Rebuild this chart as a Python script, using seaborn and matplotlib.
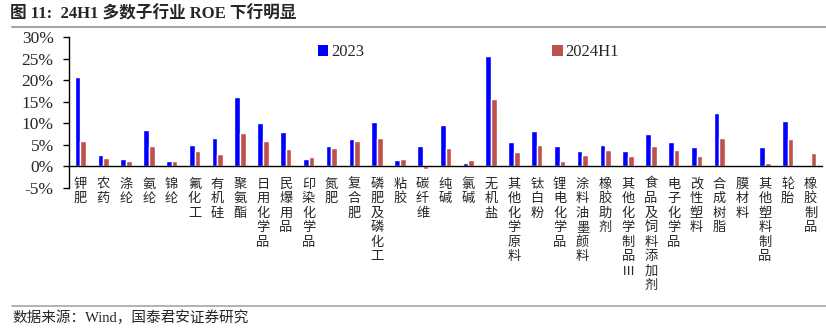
import numpy as np
import pandas as pd
import matplotlib
matplotlib.use("Agg")
import matplotlib.pyplot as plt
import seaborn as sns
from matplotlib.patches import Patch

categories = ["钾肥", "农药", "涤纶", "氨纶", "锦纶", "氟化工", "有机硅", "聚氨酯", "日用化学品",
              "民爆用品", "印染化学品", "氮肥", "复合肥", "磷肥及磷化工", "粘胶", "碳纤维", "纯碱",
              "氯碱", "无机盐", "其他化学原料", "钛白粉", "锂电化学品", "涂料油墨颜料", "橡胶助剂",
              "其他化学制品Ⅲ", "食品及饲料添加剂", "电子化学品", "改性塑料", "合成树脂", "膜材料",
              "其他塑料制品", "轮胎", "橡胶制品"]
roe_2023 = [20.8, 2.7, 1.7, 8.5, 1.15, 4.9, 6.5, 16.1, 10.1, 7.9, 1.7, 4.85, 6.3, 10.2, 1.55,
            4.8, 9.6, 0.77, 25.5, 5.6, 8.2, 4.8, 3.6, 5.0, 3.6, 7.6, 5.6, 4.5, 12.4, 0.3, 4.5, 10.5, 0.0]
roe_2024h1 = [6.0, 1.9, 1.3, 4.8, 1.3, 3.5, 2.85, 7.7, 5.85, 4.15, 2.15, 4.3, 5.8, 6.5, 1.7,
              -0.6, 4.2, 1.46, 15.6, 3.4, 4.9, 1.2, 2.7, 3.85, 2.4, 4.7, 3.8, 2.5, 6.7, -0.2, 0.85, 6.4, 3.1]
series_names = ["2023", "2024H1"]
colors = ["#0000FF", "#C0504D"]
yticks = [-5, 0, 5, 10, 15, 20, 25, 30]

df = pd.DataFrame({
    "cat": categories * 2,
    "val": roe_2023 + roe_2024h1,
    "series": [series_names[0]] * len(categories) + [series_names[1]] * len(categories),
})

sns.set_theme(style="white")
plt.rcParams["font.family"] = ["Liberation Serif", "Noto Sans CJK SC", "DejaVu Sans"]

fig = plt.figure(figsize=(8.26, 3.30), dpi=100)
ax = fig.add_axes([69 / 826, 1 - 188 / 330, 753 / 826, 151 / 330])

sns.barplot(data=df, x="cat", y="val", hue="series", palette=colors, width=0.5,
            errorbar=None, ax=ax, saturation=1, legend=False)

ax.set_ylim(-5, 30)
ax.set_xlim(-0.5, len(categories) - 0.5)
ax.set_yticks(yticks)
ax.set_yticklabels([f"{v}%" for v in yticks], fontsize=12.5)
ax.set_xlabel("")
ax.set_ylabel("")

for s in ["top", "right"]:
    ax.spines[s].set_visible(False)
ax.spines["bottom"].set_position(("data", 0))
for s in ["left", "bottom"]:
    ax.spines[s].set_color("black")
    ax.spines[s].set_linewidth(1.0)

ax.set_xticks(range(len(categories)))
ax.set_xticklabels(["\n".join(c) for c in categories], fontsize=9.5,
                   family=["Noto Sans CJK SC"], linespacing=1.15, va="top")
ax.tick_params(axis="x", which="major", length=0, pad=8)
ax.set_xticks(np.arange(-0.5, len(categories), 1), minor=True)
ax.tick_params(axis="x", which="minor", length=4, width=1, color="black", direction="out")
ax.tick_params(axis="y", length=4, width=1, color="black", direction="out", left=True, pad=7)

handles = [Patch(facecolor=c, edgecolor="none") for c in colors]
ax.legend(handles, series_names, ncol=2, loc="center left", bbox_to_anchor=(0.319, 0.9),
          frameon=False, fontsize=12, handlelength=0.65, handleheight=0.65,
          handletextpad=0.15, columnspacing=11.3, borderpad=0)

# title and footer
fig.text(10 / 826, 1 - 14 / 330, "图 11:  24H1 多数子行业 ROE 下行明显", fontsize=12,
         fontweight="bold", va="center", ha="left",
         family=["Liberation Serif", "Noto Sans CJK SC"])
fig.add_artist(plt.Line2D([12 / 826, 1.0], [1 - 27 / 330, 1 - 27 / 330],
                          color="#A6A6A6", linewidth=1.5))
fig.add_artist(plt.Line2D([12 / 826, 1.0], [1 - 306 / 330, 1 - 306 / 330],
                          color="#A6A6A6", linewidth=1.2))
fig.text(12 / 826, 1 - 318 / 330, "数据来源：Wind，国泰君安证券研究", fontsize=10.5,
         va="center", ha="left", family=["Liberation Serif", "Noto Sans CJK SC"])

fig.savefig("out.png", dpi=100)
